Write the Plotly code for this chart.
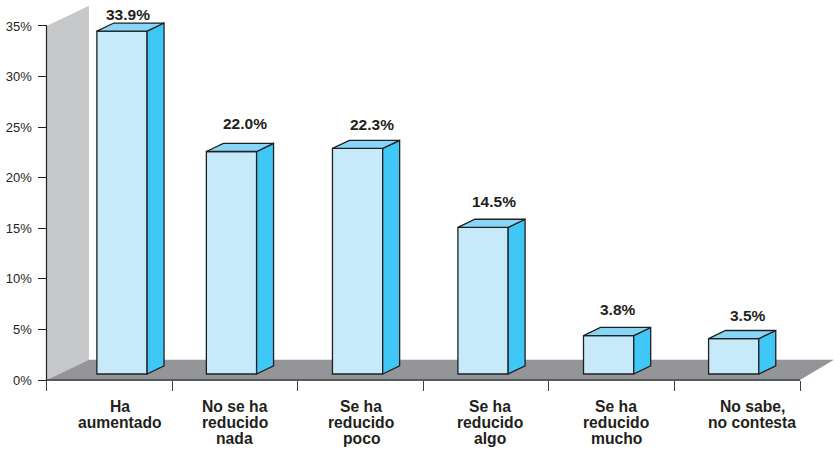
import plotly.graph_objects as go

# Survey shares, in percent
categories = [
    ["Ha", "aumentado"],
    ["No se ha", "reducido", "nada"],
    ["Se ha", "reducido", "poco"],
    ["Se ha", "reducido", "algo"],
    ["Se ha", "reducido", "mucho"],
    ["No sabe,", "no contesta"],
]
values = [33.9, 22.0, 22.3, 14.5, 3.8, 3.5]
y_ticks = [0, 5, 10, 15, 20, 25, 30, 35]
x_ticks = [0, 1, 2, 3, 4, 5, 6]

# Layout of the pseudo-3D columns, in axis units
bar_centers = [0.601, 1.473, 2.477, 3.476, 4.476, 5.472]
bar_width = 0.40
bar_base = 0.593
depth_x, depth_y = 0.135, 0.80
wall_x, wall_y = 0.338, 2.0

# The axes span the whole canvas so the box can overhang the tick range
x_range = [-0.3703, 6.2707]
y_range = [-7.02, 37.57]

# Pixel nudges for the text
value_shift_x = [6, 14, 14, 11, 9, 14]
value_shift_y = [17, 28, 24, 26, 26, 23]
label_centers = [0.587, 1.5, 2.507, 3.53, 4.537, 5.618]

FRONT, SIDE, TOP = "#c7eafb", "#3fc7f5", "#85d6f7"
WALL, FLOOR, INK = "#c7c8ca", "#939598", "#231f20"
FONT = "Liberation Sans, Arial, sans-serif"

fig = go.Figure()


def polygon(xs, ys, fill, axes=("x", "y"), edge=None):
    """Add a closed filled polygon in data coordinates."""
    fig.add_trace(go.Scatter(
        x=xs + xs[:1], y=ys + ys[:1], xaxis=axes[0], yaxis=axes[1],
        mode="lines", fill="toself", fillcolor=fill,
        line=dict(color=edge or fill, width=1.3 if edge else 0),
        hoverinfo="skip", showlegend=False,
    ))


def rule(xs, ys, color, width):
    """Add an axis rule as a plain line."""
    fig.add_trace(go.Scatter(
        x=xs, y=ys, mode="lines", line=dict(color=color, width=width),
        hoverinfo="skip", showlegend=False,
    ))


# Back wall and floor of the chart box
polygon([0, 0, wall_x, wall_x], [0, y_ticks[-1], y_ticks[-1] + wall_y, wall_y], WALL)
polygon([0, wall_x, x_range[1], x_ticks[-1]], [0, wall_y, wall_y, 0], FLOOR)
rule([0, 0], [0, y_ticks[-1]], INK, 1.2)
rule([0, x_ticks[-1]], [0, 0], "#58595b", 2)

# Column fronts, on an overlaid subplot so they sit above the floor
fig.add_trace(go.Bar(
    x=bar_centers, y=values, base=bar_base, width=bar_width,
    xaxis="x2", yaxis="y2",
    marker=dict(color=FRONT, line=dict(color=INK, width=1.3)),
    hoverinfo="skip", showlegend=False,
))

# Column sides and tops
for c, v in zip(bar_centers, values):
    left, right = c - bar_width / 2, c + bar_width / 2
    top = bar_base + v
    polygon([right, right + depth_x, right + depth_x, right],
            [bar_base, bar_base + depth_y, top + depth_y, top], SIDE, ("x2", "y2"), INK)
    polygon([left, left + depth_x, right + depth_x, right],
            [top, top + depth_y, top + depth_y, top], TOP, ("x2", "y2"), INK)

annotations = []
# Value labels above each column
for c, v, sx, sy in zip(bar_centers, values, value_shift_x, value_shift_y):
    annotations.append(dict(
        x=c, y=bar_base + v, xref="x2", yref="y2", text=f"<b>{v:.1f}%</b>",
        showarrow=False, xanchor="center", yanchor="middle",
        xshift=sx, yshift=sy, font=dict(family=FONT, size=15.5, color=INK),
    ))

# Category labels, one annotation per line for tight leading
for cx, lines in zip(label_centers, categories):
    for i, line in enumerate(lines):
        annotations.append(dict(
            x=cx, y=0, xref="x", yref="y", text=f"<b>{line}</b>",
            showarrow=False, xanchor="center", yanchor="middle",
            yshift=-26 - 16 * i, font=dict(family=FONT, size=15.7, color=INK),
        ))

fig.update_layout(
    width=834, height=451, autosize=False,
    margin=dict(l=0, r=0, t=0, b=0, autoexpand=False),
    paper_bgcolor="white", plot_bgcolor="white",
    showlegend=False, barmode="overlay",
    font=dict(family=FONT, color=INK),
    annotations=annotations,
    xaxis=dict(
        range=x_range, tickmode="array", tickvals=x_ticks, ticktext=[""] * len(x_ticks),
        anchor="free", position=(0 - y_range[0]) / (y_range[1] - y_range[0]),
        ticks="outside", ticklen=10, tickwidth=1.2, tickcolor="#414042",
        showgrid=False, zeroline=False, showline=False,
    ),
    yaxis=dict(
        range=y_range, tickmode="array", tickvals=y_ticks,
        ticktext=[f"{t}%" for t in y_ticks], tickfont=dict(family=FONT, size=13, color=INK),
        anchor="free", position=(0 - x_range[0]) / (x_range[1] - x_range[0]),
        ticks="outside", ticklen=9, tickwidth=1.2, tickcolor=INK, ticklabelstandoff=3,
        showgrid=False, zeroline=False, showline=False,
    ),
    xaxis2=dict(range=x_range, overlaying="x", visible=False),
    yaxis2=dict(range=y_range, overlaying="y", visible=False),
)

fig.write_html("out.html")
